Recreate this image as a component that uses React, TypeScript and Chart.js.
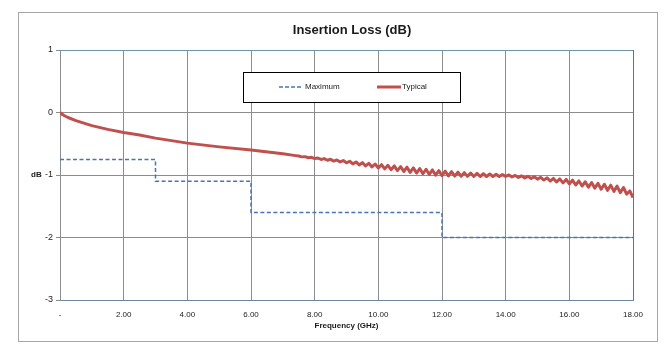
import React, { useEffect, useRef } from "react";
import { Chart, registerables } from "chart.js";

Chart.register(...registerables);

const chartTitle = "Insertion Loss (dB)";
const xTitle = "Frequency (GHz)";
const yTitle = "dB";

// Maximum (stepped spec line)
const maxFreq = [0, 3, 3, 6, 6, 12, 12, 18];
const maxLoss = [-0.75, -0.75, -1.1, -1.1, -1.6, -1.6, -2.0, -2.0];

// Typical — smooth start
const typFreqStart = [0, 0.1, 0.25, 0.5, 1, 1.5, 2, 2.5, 3, 3.5, 4, 5, 6, 7, 7.4];
const typLossStart = [0, -0.04, -0.08, -0.13, -0.21, -0.27, -0.32, -0.36, -0.41, -0.45, -0.49, -0.55, -0.6, -0.66, -0.69];

// Typical — rippled part, 7.5 GHz to 18 GHz in 0.1 GHz steps
const typRippleStartFreq = 7.5;
const typRippleStep = 0.1;
const typLossRipple = [
  -0.697, -0.71, -0.707, -0.724, -0.717, -0.737, -0.728, -0.751, -0.738, -0.764,
  -0.749, -0.777, -0.759, -0.791, -0.769, -0.805, -0.78, -0.822, -0.791, -0.839,
  -0.802, -0.855, -0.813, -0.871, -0.824, -0.887, -0.835, -0.902, -0.845, -0.916,
  -0.855, -0.93, -0.865, -0.944, -0.875, -0.958, -0.886, -0.969, -0.897, -0.98,
  -0.908, -0.991, -0.919, -1.002, -0.93, -1.012, -0.939, -1.016, -0.947, -1.018,
  -0.955, -1.02, -0.962, -1.022, -0.969, -1.024, -0.975, -1.024, -0.98, -1.024,
  -0.985, -1.023, -0.99, -1.023, -0.995, -1.022, -1.0, -1.03, -1.007, -1.039,
  -1.014, -1.048, -1.021, -1.057, -1.028, -1.066, -1.037, -1.081, -1.046, -1.097,
  -1.055, -1.112, -1.063, -1.127, -1.071, -1.143, -1.082, -1.16, -1.095, -1.177,
  -1.108, -1.194, -1.121, -1.211, -1.134, -1.228, -1.148, -1.245, -1.163, -1.262,
  -1.178, -1.283, -1.2, -1.306, -1.255, -1.36,
];

const xTickValues = [0, 2, 4, 6, 8, 10, 12, 14, 16, 18];
const yTickValues = [1, 0, -1, -2, -3];

const seriesLabels = ["Maximum", "Typical"];
const seriesColors = ["#4a74b0", "#c0504d"];

const FONT = "'Liberation Sans', Arial, sans-serif";

export default function App() {
  const ref = useRef<HTMLCanvasElement | null>(null);

  useEffect(() => {
    if (!ref.current) return;
    const maxData = maxFreq.map((x, i) => ({ x, y: maxLoss[i] }));
    const typData = typFreqStart.map((x, i) => ({ x, y: typLossStart[i] }));
    typLossRipple.forEach((y, i) => {
      typData.push({ x: +(typRippleStartFreq + i * typRippleStep).toFixed(2), y });
    });

    const decor = {
      id: "decor",
      beforeDraw(chart: any) {
        const { ctx } = chart;
        ctx.save();
        ctx.fillStyle = "#ffffff";
        ctx.fillRect(0, 0, chart.width, chart.height);
        ctx.strokeStyle = "#a6a6a6";
        ctx.lineWidth = 1;
        ctx.strokeRect(18.5, 12.5, 639, 329);
        ctx.restore();
      },
      afterDraw(chart: any) {
        const { ctx, chartArea } = chart;
        ctx.save();
        // title
        ctx.fillStyle = "#1a1a1a";
        ctx.font = `bold 13px ${FONT}`;
        ctx.textAlign = "center";
        ctx.textBaseline = "middle";
        ctx.fillText(chartTitle, 352, 30);
        // axis titles
        ctx.font = `bold 8px ${FONT}`;
        ctx.fillText(xTitle, (chartArea.left + chartArea.right) / 2, 326);
        ctx.textAlign = "left";
        ctx.fillText(yTitle, 31, 175);
        // legend
        const lx = 243, ly = 72, lw = 217, lh = 30;
        ctx.fillStyle = "#ffffff";
        ctx.fillRect(lx, ly, lw, lh);
        ctx.strokeStyle = "#000000";
        ctx.lineWidth = 1;
        ctx.strokeRect(lx + 0.5, ly + 0.5, lw, lh);
        const cy = ly + 15;
        const ds = chart.data.datasets;
        // Maximum sample
        ctx.strokeStyle = ds[0].borderColor;
        ctx.lineWidth = 1.5;
        ctx.setLineDash([4, 2]);
        ctx.beginPath();
        ctx.moveTo(279, cy);
        ctx.lineTo(303, cy);
        ctx.stroke();
        ctx.setLineDash([]);
        // Typical sample
        ctx.strokeStyle = ds[1].borderColor;
        ctx.lineWidth = 3;
        ctx.beginPath();
        ctx.moveTo(377, cy);
        ctx.lineTo(401, cy);
        ctx.stroke();
        ctx.fillStyle = "#1a1a1a";
        ctx.font = `8px ${FONT}`;
        ctx.textAlign = "left";
        ctx.fillText(ds[0].label, 305, cy);
        ctx.fillText(ds[1].label, 402, cy);
        ctx.restore();
      },
    };

    const chart = new Chart(ref.current, {
      type: "line",
      data: {
        datasets: [
          {
            label: seriesLabels[0],
            data: maxData,
            borderColor: seriesColors[0],
            borderWidth: 1.5,
            borderDash: [4, 2.5],
            pointRadius: 0,
            tension: 0,
            fill: false,
          },
          {
            label: seriesLabels[1],
            data: typData,
            borderColor: seriesColors[1],
            borderWidth: 3,
            borderJoinStyle: "round",
            pointRadius: 0,
            tension: 0,
            fill: false,
          },
        ],
      },
      options: {
        animation: false,
        responsive: false,
        maintainAspectRatio: false,
        events: [],
        layout: { padding: { left: 0, top: 50, right: 38, bottom: 0 } },
        plugins: {
          legend: { display: false },
          title: { display: false },
          tooltip: { enabled: false },
        },
        scales: {
          x: {
            type: "linear",
            min: 0,
            max: 18,
            afterBuildTicks(axis: any) {
              axis.ticks = xTickValues.map((v) => ({ value: v }));
            },
            afterFit(axis: any) {
              axis.height = 60;
            },
            ticks: {
              autoSkip: false,
              maxRotation: 0,
              padding: 10,
              color: "#222",
              font: { family: FONT, size: 8 },
              callback: (v: any) => (Number(v) === 0 ? "-" : Number(v).toFixed(2)),
            },
            grid: {
              color: (c: any) => (c.index === xTickValues.length - 1 ? "#55779c" : "#8c8c8c"),
              lineWidth: 1,
              tickLength: 0,
              drawTicks: false,
            },
            border: { color: "#6f86a6", width: 1 },
          },
          y: {
            type: "linear",
            min: -3,
            max: 1,
            afterBuildTicks(axis: any) {
              axis.ticks = yTickValues.map((v) => ({ value: v }));
            },
            afterFit(axis: any) {
              axis.width = 60;
            },
            ticks: {
              padding: 3,
              color: "#222",
              font: { family: FONT, size: 9 },
              callback: (v: any) => String(v),
            },
            grid: {
              color: (c: any) => (c.tick && c.tick.value === 1 ? "#6f93a8" : "#8c8c8c"),
              lineWidth: 1,
              tickLength: 4,
            },
            border: { color: "#8c8c8c", width: 1 },
          },
        },
      } as any,
      plugins: [decor],
    });
    return () => chart.destroy();
  }, []);

  return (
    <div style={{ position: "fixed", left: 0, top: 0, width: 671, height: 360, background: "#fff" }}>
      <canvas ref={ref} width={671} height={360} style={{ width: 671, height: 360, display: "block" }} />
    </div>
  );
}
